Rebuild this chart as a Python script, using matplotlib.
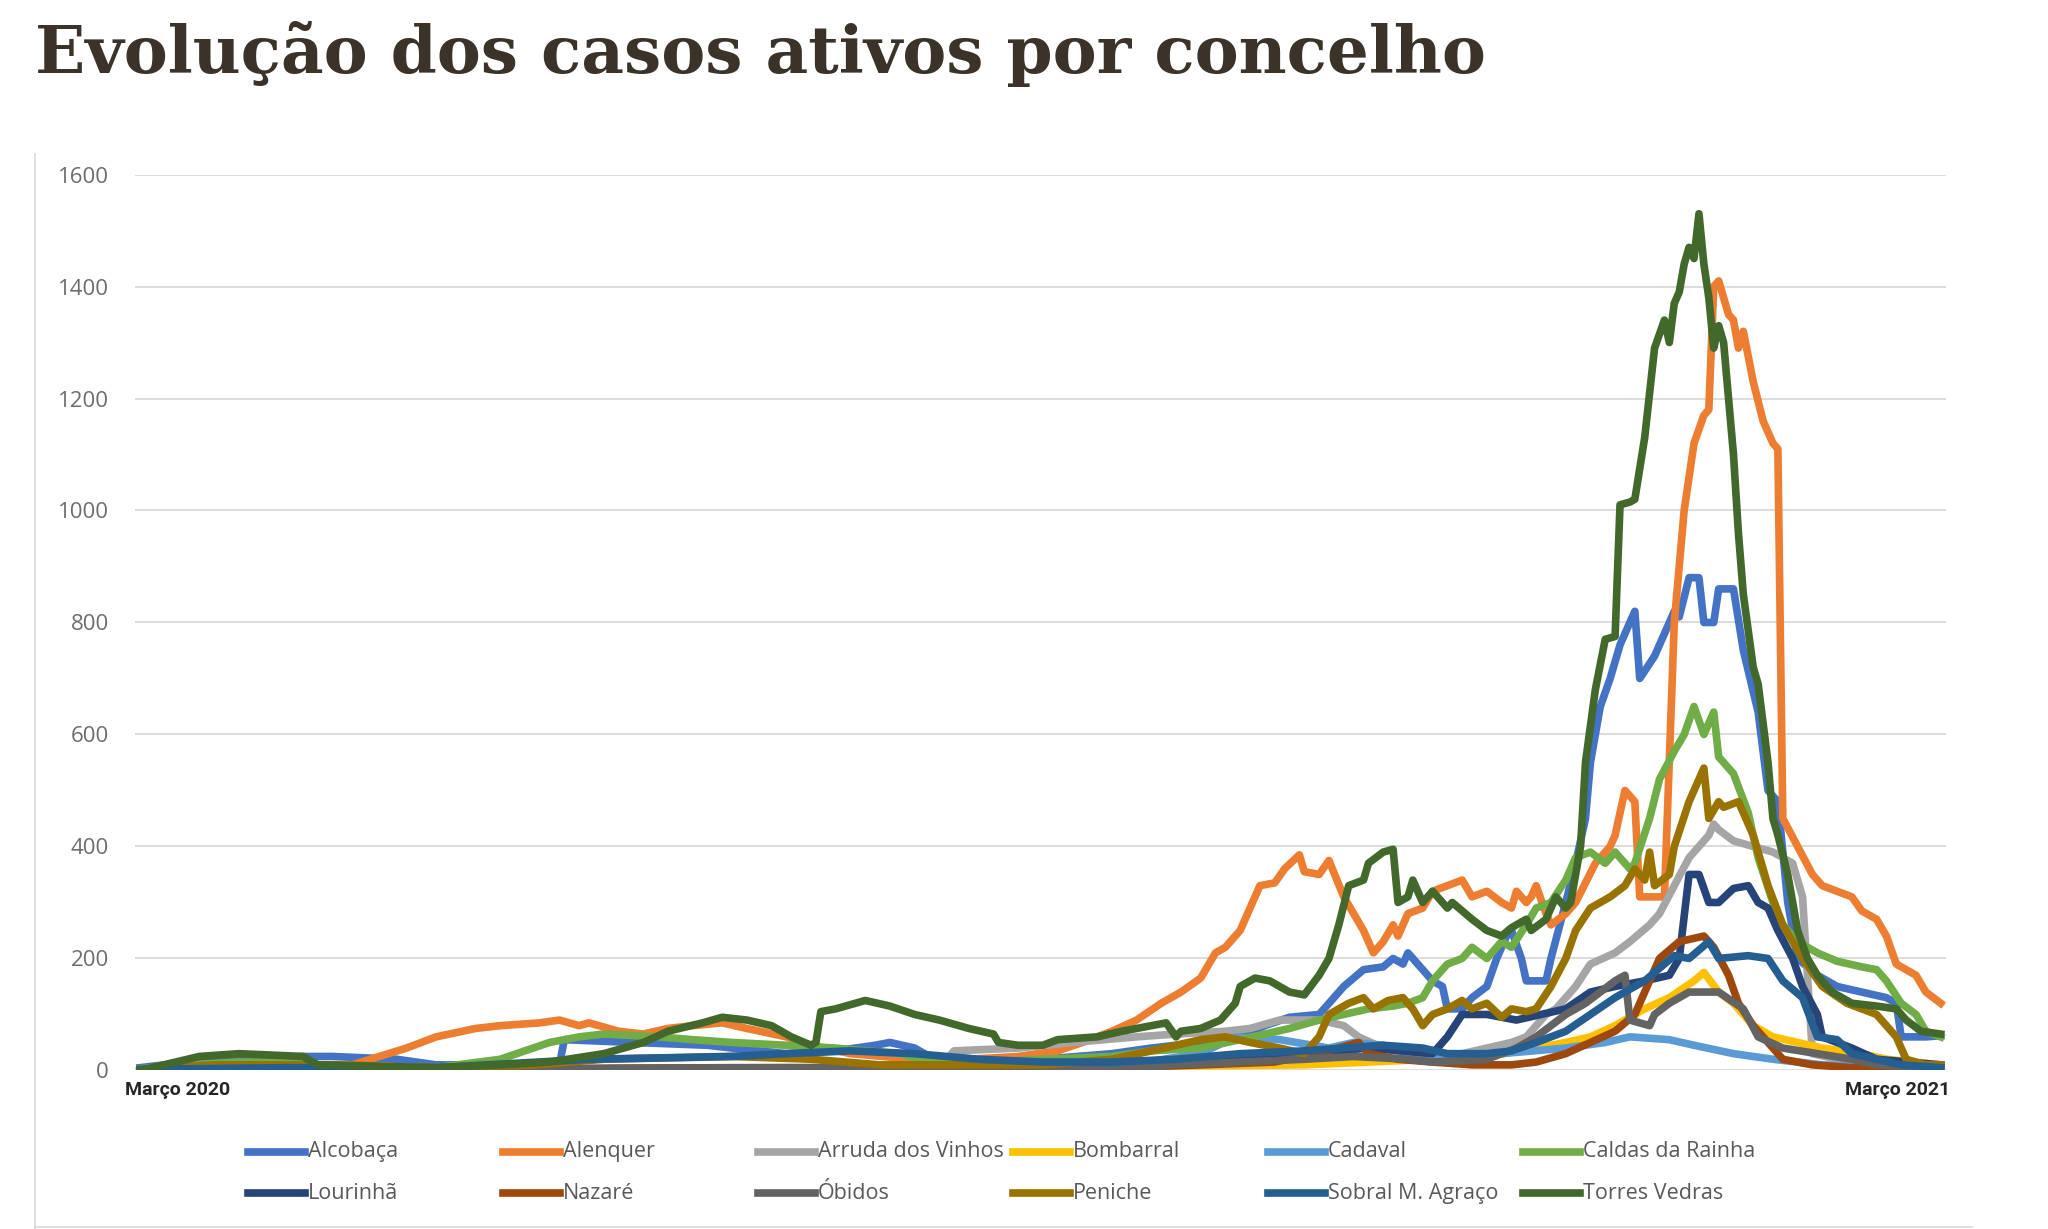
import matplotlib
matplotlib.use('Agg')
import matplotlib.pyplot as plt
from matplotlib.lines import Line2D

# casos ativos por concelho (dia desde 1 de março de 2020, casos)
alcobaca_dias = [0, 10, 20, 33, 39, 52, 60, 85, 86, 100, 115, 120, 131, 141, 149, 152, 157, 160, 170, 183, 197, 205, 215, 223, 228, 233, 239, 244, 248, 252, 254, 256, 257, 260, 262, 264, 265, 268, 270, 273, 275, 277, 278, 280, 281, 285, 286, 289, 291, 293, 294, 296, 298, 300, 303, 304, 307, 308, 310, 311, 312, 314, 316, 317, 319, 320, 323, 325, 328, 330, 332, 334, 336, 340, 344, 349, 354, 356, 357, 362, 365]
alcobaca_casos = [5, 15, 20, 25, 25, 20, 10, 10, 55, 50, 45, 40, 30, 35, 45, 50, 40, 25, 20, 20, 30, 40, 50, 60, 80, 95, 100, 150, 180, 185, 200, 190, 210, 180, 160, 150, 110, 110, 130, 150, 200, 240, 250, 200, 160, 160, 200, 300, 370, 450, 550, 650, 700, 760, 820, 700, 740, 760, 800, 820, 810, 880, 880, 800, 800, 860, 860, 750, 640, 500, 480, 300, 200, 170, 150, 140, 130, 120, 60, 60, 62]

alenquer_dias = [0, 33, 43, 54, 60, 68, 73, 81, 85, 89, 91, 97, 102, 107, 112, 118, 123, 131, 136, 144, 157, 168, 178, 186, 191, 197, 202, 207, 211, 215, 218, 220, 223, 225, 227, 230, 232, 235, 236, 239, 241, 244, 248, 250, 252, 254, 255, 257, 260, 262, 265, 268, 270, 273, 276, 278, 279, 281, 282, 283, 285, 286, 289, 291, 295, 298, 299, 301, 303, 304, 309, 311, 313, 315, 317, 318, 319, 320, 322, 323, 324, 325, 327, 329, 331, 332, 333, 336, 339, 341, 347, 349, 352, 354, 356, 360, 362, 365]
alenquer_casos = [0, 2, 10, 40, 60, 75, 80, 85, 90, 80, 85, 70, 65, 75, 80, 85, 75, 60, 45, 30, 20, 20, 25, 35, 50, 70, 90, 120, 140, 165, 210, 220, 250, 290, 330, 335, 360, 385, 355, 350, 375, 310, 250, 210, 230, 260, 240, 280, 290, 320, 330, 340, 310, 320, 300, 290, 320, 300, 310, 330, 280, 260, 280, 300, 370, 400, 420, 500, 480, 310, 310, 800, 1000, 1120, 1170, 1180, 1400, 1410, 1350, 1340, 1290, 1320, 1230, 1160, 1120, 1110, 450, 400, 350, 330, 310, 285, 270, 240, 190, 170, 140, 120]

arruda_dias = [0, 60, 162, 165, 178, 189, 202, 210, 220, 225, 231, 239, 244, 247, 252, 257, 262, 268, 273, 278, 281, 285, 287, 291, 294, 299, 302, 306, 308, 311, 314, 318, 319, 320, 323, 327, 331, 335, 337, 339, 344, 352, 365]
arruda_casos = [0, 2, 5, 35, 40, 50, 60, 65, 70, 75, 90, 90, 80, 60, 40, 30, 25, 30, 40, 50, 60, 100, 110, 150, 190, 210, 230, 260, 280, 330, 380, 420, 440, 430, 410, 400, 390, 370, 310, 30, 20, 10, 5]

bombarral_dias = [0, 60, 150, 236, 249, 262, 273, 283, 289, 294, 299, 305, 310, 315, 317, 320, 323, 327, 331, 341, 349, 354, 365]
bombarral_casos = [0, 2, 3, 10, 15, 20, 25, 40, 50, 60, 80, 110, 130, 160, 175, 140, 120, 80, 60, 40, 30, 20, 10]

cadaval_dias = [0, 60, 150, 200, 215, 222, 231, 241, 246, 252, 257, 262, 276, 289, 297, 302, 310, 315, 323, 331, 341, 354, 365]
cadaval_casos = [0, 2, 5, 10, 30, 60, 55, 40, 50, 45, 30, 25, 30, 40, 50, 60, 55, 45, 30, 20, 10, 5, 5]

caldas_dias = [0, 10, 20, 33, 40, 60, 73, 78, 83, 89, 94, 105, 112, 120, 131, 141, 147, 154, 160, 173, 183, 197, 205, 215, 223, 228, 233, 239, 244, 249, 254, 257, 260, 262, 265, 268, 270, 273, 276, 278, 281, 283, 286, 289, 291, 294, 297, 299, 302, 303, 306, 308, 311, 313, 315, 317, 319, 320, 323, 326, 328, 331, 333, 336, 340, 344, 349, 352, 354, 357, 360, 362, 365]
caldas_casos = [3, 10, 15, 15, 5, 5, 20, 35, 50, 60, 65, 60, 55, 50, 45, 40, 35, 30, 15, 15, 20, 25, 35, 40, 55, 65, 75, 90, 100, 110, 115, 120, 130, 160, 190, 200, 220, 200, 230, 220, 260, 290, 300, 340, 380, 390, 370, 390, 360, 370, 450, 520, 570, 600, 650, 600, 640, 560, 530, 460, 380, 300, 260, 230, 210, 195, 185, 180, 160, 120, 100, 70, 60]

lourinha_dias = [0, 60, 150, 180, 210, 236, 249, 262, 265, 268, 273, 279, 284, 289, 294, 299, 305, 310, 312, 314, 316, 318, 320, 323, 326, 328, 330, 332, 335, 337, 340, 341, 347, 352, 365]
lourinha_casos = [0, 2, 5, 10, 10, 30, 40, 30, 60, 100, 100, 90, 100, 110, 140, 150, 160, 170, 200, 350, 350, 300, 300, 325, 330, 300, 290, 250, 200, 150, 100, 60, 40, 20, 10]

nazare_dias = [0, 60, 120, 200, 230, 243, 247, 249, 255, 262, 270, 278, 283, 289, 294, 299, 303, 306, 308, 312, 317, 319, 322, 324, 327, 330, 333, 339, 347, 365]
nazare_casos = [0, 2, 5, 5, 15, 40, 50, 30, 20, 15, 10, 10, 15, 30, 50, 70, 100, 160, 200, 230, 240, 220, 170, 120, 80, 50, 20, 10, 5, 5]

obidos_dias = [0, 60, 130, 199, 210, 223, 236, 246, 257, 262, 273, 279, 283, 289, 293, 296, 299, 301, 302, 306, 307, 310, 314, 320, 325, 328, 333, 340, 347, 352, 365]
obidos_casos = [0, 2, 5, 5, 10, 15, 20, 25, 20, 15, 20, 40, 60, 100, 120, 140, 160, 170, 90, 80, 100, 120, 140, 140, 110, 60, 40, 30, 20, 10, 5]

peniche_dias = [0, 15, 40, 60, 80, 94, 120, 136, 150, 183, 197, 205, 210, 215, 220, 225, 231, 236, 239, 241, 245, 248, 250, 253, 256, 258, 260, 262, 265, 268, 270, 273, 276, 278, 281, 283, 286, 289, 291, 294, 298, 301, 303, 305, 306, 307, 310, 311, 314, 317, 318, 320, 321, 324, 327, 330, 333, 337, 341, 346, 352, 356, 358, 362, 365]
peniche_casos = [2, 10, 10, 5, 10, 20, 25, 20, 10, 10, 20, 35, 45, 55, 60, 50, 40, 30, 60, 100, 120, 130, 110, 125, 130, 110, 80, 100, 110, 125, 110, 120, 95, 110, 105, 110, 150, 200, 250, 290, 310, 330, 360, 340, 390, 330, 350, 400, 480, 540, 450, 480, 470, 480, 420, 330, 260, 200, 150, 120, 100, 60, 20, 10, 10]

sobral_dias = [0, 30, 60, 91, 120, 131, 144, 157, 170, 183, 197, 210, 223, 236, 244, 252, 260, 265, 273, 278, 283, 289, 294, 299, 305, 309, 311, 314, 318, 320, 326, 330, 333, 337, 340, 344, 347, 352, 357, 365]
sobral_casos = [2, 5, 5, 20, 25, 30, 35, 30, 20, 15, 15, 20, 30, 35, 40, 45, 40, 30, 30, 35, 50, 70, 100, 130, 160, 190, 205, 200, 230, 200, 205, 200, 160, 130, 60, 55, 30, 20, 10, 5]

torres_dias = [0, 12, 20, 33, 36, 60, 73, 83, 94, 102, 107, 114, 118, 123, 128, 132, 136, 137, 138, 141, 145, 147, 152, 157, 162, 168, 173, 174, 178, 183, 186, 194, 199, 205, 208, 210, 211, 215, 219, 222, 223, 226, 229, 233, 236, 239, 241, 243, 245, 248, 249, 252, 254, 255, 257, 258, 260, 262, 265, 266, 270, 273, 276, 278, 281, 282, 285, 287, 289, 290, 292, 293, 295, 297, 299, 300, 302, 303, 305, 307, 309, 310, 311, 312, 313, 314, 315, 316, 317, 318, 319, 320, 321, 322, 323, 324, 325, 327, 328, 330, 331, 332, 334, 336, 338, 340, 343, 347, 352, 356, 358, 361, 365]
torres_casos = [0, 25, 30, 25, 10, 5, 10, 15, 30, 50, 70, 85, 95, 90, 80, 60, 45, 50, 105, 110, 120, 125, 115, 100, 90, 75, 65, 50, 45, 45, 55, 60, 70, 80, 85, 60, 70, 75, 90, 120, 150, 165, 160, 140, 135, 170, 200, 260, 330, 340, 370, 390, 395, 300, 310, 340, 300, 320, 290, 300, 270, 250, 240, 255, 270, 250, 270, 310, 290, 300, 400, 550, 680, 770, 775, 1010, 1015, 1020, 1130, 1290, 1340, 1300, 1370, 1390, 1440, 1470, 1450, 1530, 1440, 1380, 1290, 1330, 1300, 1200, 1100, 960, 850, 720, 690, 550, 450, 420, 350, 250, 200, 170, 140, 120, 115, 110, 90, 70, 65]

concelhos = ['Alcobaça', 'Alenquer', 'Arruda dos Vinhos', 'Bombarral', 'Cadaval', 'Caldas da Rainha',
             'Lourinhã', 'Nazaré', 'Óbidos', 'Peniche', 'Sobral M. Agraço', 'Torres Vedras']
dias = [alcobaca_dias, alenquer_dias, arruda_dias, bombarral_dias, cadaval_dias, caldas_dias,
        lourinha_dias, nazare_dias, obidos_dias, peniche_dias, sobral_dias, torres_dias]
casos = [alcobaca_casos, alenquer_casos, arruda_casos, bombarral_casos, cadaval_casos, caldas_casos,
         lourinha_casos, nazare_casos, obidos_casos, peniche_casos, sobral_casos, torres_casos]
cores = ['#4472C4', '#ED7D31', '#A5A5A5', '#FFC000', '#5B9BD5', '#70AD47',
         '#264478', '#9E480E', '#636363', '#997300', '#255E91', '#43682B']

fig = plt.figure(figsize=(20.48, 12.29), dpi=100)
ax = fig.add_axes([0.066, 0.129, 0.884, 0.729])

for d, c, cor, nome in zip(dias, casos, cores, concelhos):
    ax.plot(d, c, color=cor, lw=5.5, label=nome, solid_joinstyle='round')

ax.set_xlim(-1, 366)
ax.set_ylim(0, 1600)
ax.set_yticks(range(0, 1601, 200))
ax.set_xticks([])
ax.yaxis.grid(True, color='#d9d9d9', lw=1.3)
ax.set_axisbelow(True)
for s in ax.spines.values():
    s.set_visible(False)
ax.tick_params(axis='y', length=0, pad=19, labelsize=16, labelcolor='#6d6d6d')
for t in ax.get_yticklabels():
    t.set_family('Open Sans')

ax.text(-3, -0.022, 'Março 2020', transform=ax.get_xaxis_transform(), ha='left', va='center',
        fontsize=14, fontweight='bold', color='#262626', family='Roboto')
ax.text(367, -0.022, 'Março 2021', transform=ax.get_xaxis_transform(), ha='right', va='center',
        fontsize=14, fontweight='bold', color='#262626', family='Roboto')

fig.text(0.017, 0.983, 'Evolução dos casos ativos por concelho', ha='left', va='top',
         fontsize=47.5, fontweight='bold', family='DejaVu Serif', color='#3b3329')

# moldura do gráfico
fig.add_artist(Line2D([0.017, 0.017], [0.0, 0.875], color='#d9d9d9', lw=1.2))
fig.add_artist(Line2D([0.017, 0.963], [0.002, 0.002], color='#d9d9d9', lw=1.2))

# legenda em grelha
for i, (nome, cor) in enumerate(zip(concelhos, cores)):
    linha, col = divmod(i, 6)
    x0 = 0.121 + col * 0.1245
    y0 = 0.063 - linha * 0.034
    fig.add_artist(Line2D([x0, x0 + 0.028], [y0, y0], color=cor, lw=5.5))
    fig.text(x0 + 0.0295, y0, nome, ha='left', va='center', fontsize=15.5,
             color='#595959', family='Open Sans')

fig.savefig('out.png', dpi=100, facecolor='white')
